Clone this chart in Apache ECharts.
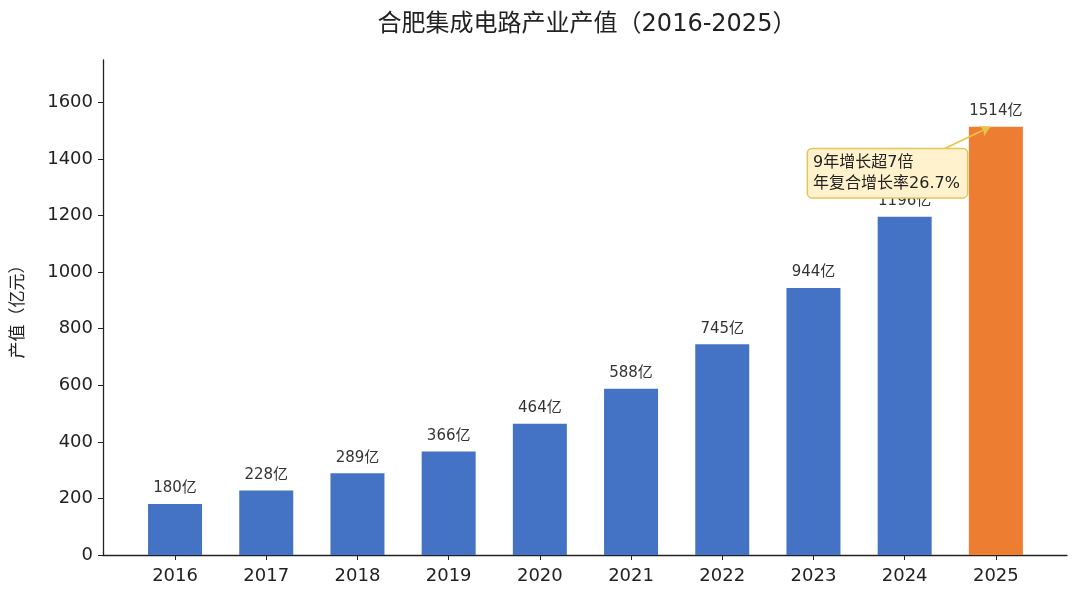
<!DOCTYPE html>
<html>
<head>
<meta charset="utf-8">
<title>合肥集成电路产业产值</title>
<script src="https://cdn.jsdelivr.net/npm/echarts@6/dist/echarts.min.js"></script>
<style>
    html, body { margin: 0; padding: 0; background: #fff; }
    #main { width: 1080px; height: 601px; }
</style>
</head>
<body>
<div id="main"></div>
<script>
//数据
var years = ['2016', '2017', '2018', '2019', '2020', '2021', '2022', '2023', '2024', '2025'];
var values = [180, 228, 289, 366, 464, 588, 745, 944, 1196, 1514];
var yTicks = [0, 200, 400, 600, 800, 1000, 1200, 1400, 1600];
var noteText = ['9年增长超7倍', '年复合增长率26.7%'];
var notePos = [7.84, 1350];
var arrowFrom = [8.44, 1437];
var arrowTo = [8.94, 1514];

var FONT = '"DejaVu Sans", "Noto Sans CJK SC", sans-serif';
var blue = '#4472C4';
var orange = '#ED7D31';

var barData = values.map(function (v, i) {
    return {
        value: [i, v],
        itemStyle: { color: i === values.length - 1 ? orange : blue }
    };
});

var xIdx = years.map(function (y, i) { return i; });

var myChart = echarts.init(document.getElementById('main'));

var option = {
    animation: false,
    textStyle: { fontFamily: FONT },
    title: {
        text: '合肥集成电路产业产值（2016-2025）',
        left: 582,
        textAlign: 'center',
        top: 8,
        textStyle: { fontSize: 24, fontWeight: 'normal', color: '#222', fontFamily: FONT }
    },
    grid: { left: 103, right: 13, top: 60, bottom: 46 },
    xAxis: {
        type: 'value',
        min: -0.79,
        max: 9.78,
        splitLine: { show: false },
        axisLine: { show: true, onZero: false, lineStyle: { color: '#222', width: 1.3 } },
        axisTick: { show: true, length: 5, lineStyle: { color: '#222' }, customValues: xIdx },
        axisLabel: {
            customValues: xIdx,
            fontSize: 18, color: '#222', margin: 12,
            formatter: function (v) { return years[Math.round(v)]; }
        }
    },
    yAxis: {
        type: 'value',
        min: 0,
        max: 1750,
        name: '产值（亿元）',
        nameLocation: 'middle',
        nameGap: 76,
        nameTextStyle: { fontSize: 17, color: '#222' },
        splitLine: { show: false },
        axisLine: { show: true, onZero: false, lineStyle: { color: '#222', width: 1.3 } },
        axisTick: { show: true, length: 5, lineStyle: { color: '#222' }, customValues: yTicks },
        axisLabel: {
            customValues: yTicks, fontSize: 18, color: '#222', margin: 10,
            formatter: function (v) { return String(v); }
        }
    },
    series: [{
        type: 'bar',
        data: barData,
        barWidth: 54,
        label: {
            show: true,
            position: 'top',
            distance: 8,
            fontSize: 15,
            color: '#333',
            formatter: function (p) { return p.value[1] + '亿'; }
        },
        markLine: {
            silent: true,
            symbol: ['none', 'arrow'],
            symbolSize: [9, 10],
            label: { show: false },
            lineStyle: { color: '#E8C547', width: 1.8, type: 'solid' },
            data: [[{ coord: arrowFrom }, { coord: arrowTo }]]
        },
        markPoint: {
            silent: true,
            z: 20,
            symbol: 'rect',
            symbolSize: 1,
            itemStyle: { color: 'rgba(0,0,0,0)' },
            label: {
                show: true,
                position: 'inside',
                formatter: noteText.join('\n'),
                fontSize: 16,
                lineHeight: 21,
                color: '#222',
                align: 'left',
                backgroundColor: '#FFF2CC',
                borderColor: '#E6C35C',
                borderWidth: 1.5,
                borderRadius: 4,
                padding: [3, 7, 3, 5],
                offset: [-82, 0]
            },
            data: [{ coord: notePos }]
        }
    }]
};

myChart.setOption(option);
</script>
</body>
</html>
